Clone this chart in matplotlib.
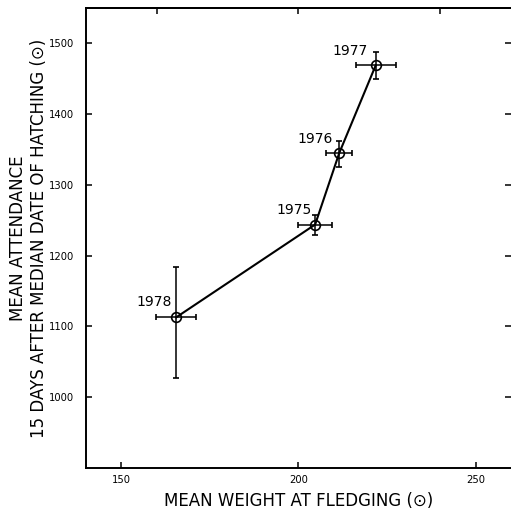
import numpy as np
import matplotlib
matplotlib.use("Agg")
import matplotlib.pyplot as plt

# data (ordered by weight)
years = ["1978", "1975", "1976", "1977"]
weight = [165.5, 204.7, 211.5, 221.8]
weight_err = [5.6, 4.7, 3.6, 5.6]
attendance = [1113, 1244, 1345, 1469]
att_lo = [1027, 1229, 1325, 1449]
att_hi = [1184, 1257, 1362, 1488]

x_ticks = [150, 200, 250]
top_ticks = [160, 200, 240]
y_ticks = [1000, 1100, 1200, 1300, 1400, 1500]

# label offsets in points (text right/bottom corner relative to point)
label_off = [(-3, 6), (-2.5, 5.5), (-4.5, 5), (-6, 5)]

plt.rcParams['font.family'] = ['DejaVu Sans']

fig = plt.figure(figsize=(5.11, 5.18), dpi=100)
ax = fig.add_axes([86/511, 50/518, 1 - 86/511, 460/518])

yerr = np.array([np.array(attendance) - np.array(att_lo),
                 np.array(att_hi) - np.array(attendance)])

ax.plot(weight, attendance, color='black', lw=1.5, zorder=2)
ax.errorbar(weight, attendance, xerr=weight_err, yerr=yerr, fmt='o',
            ms=7, mfc='none', mec='black', mew=1.2, ecolor='black',
            elinewidth=1.1, capsize=2.5, capthick=1.1, zorder=3)

for yr, x, y, off in zip(years, weight, attendance, label_off):
    ax.annotate(yr, (x, y), xytext=off, textcoords='offset points',
                ha='right', va='bottom', fontsize=10)

ax.set_xlim(140, 260)
ax.set_ylim(900, 1550)
ax.set_xticks(x_ticks)
ax.set_yticks(y_ticks)

ax.tick_params(axis='both', direction='in', length=4.5, width=1.1,
               labelsize=7.2)
ax.tick_params(axis='x', pad=5)
ax.tick_params(axis='y', pad=8.5, right=True)

ax.spines['right'].set_visible(False)
for s in ['left', 'bottom', 'top']:
    ax.spines[s].set_linewidth(1.4)

top = ax.secondary_xaxis('top')
top.set_xticks(top_ticks)
top.tick_params(direction='in', length=4.5, width=1.1, labeltop=False)
top.spines['top'].set_linewidth(1.4)

ax.set_xlabel("MEAN WEIGHT AT FLEDGING (\u2299)", fontsize=12, labelpad=5)
ax.set_ylabel("MEAN ATTENDANCE\n15 DAYS AFTER MEDIAN DATE OF HATCHING (\u2299)",
              fontsize=12, labelpad=1, linespacing=1.2)

fig.savefig("out.png", dpi=100)
